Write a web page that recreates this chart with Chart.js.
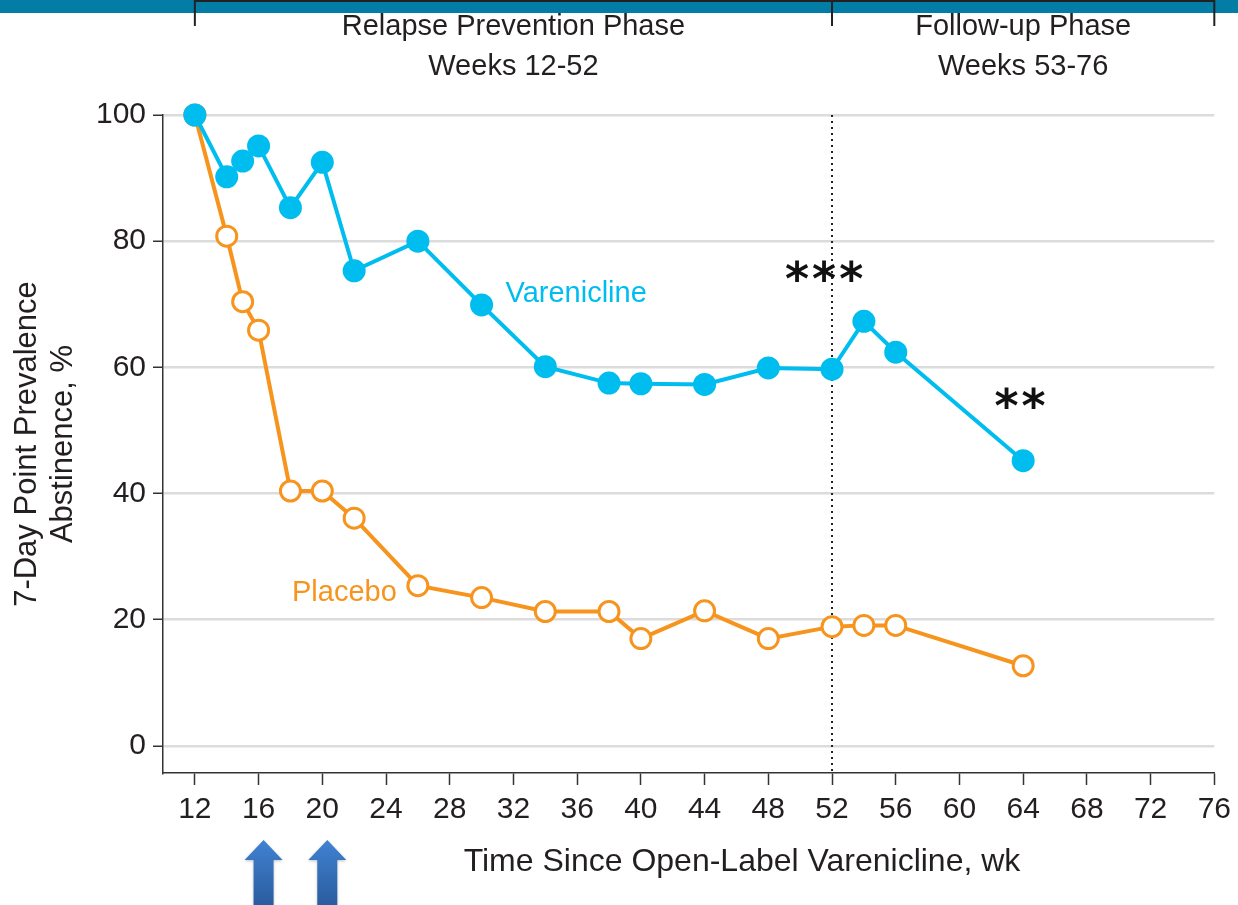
<!DOCTYPE html>
<html>
<head>
<meta charset="utf-8">
<script src="https://cdn.jsdelivr.net/npm/chart.js@4.4.1/dist/chart.umd.min.js"></script>
<style>
  html, body { margin: 0; padding: 0; background: #fff; }
  #wrap { width: 1238px; height: 905px; position: relative; }
</style>
</head>
<body>
<div id="wrap"><canvas id="chart"></canvas></div>
<script>
const weeks = [12, 14, 15, 16, 18, 20, 22, 26, 30, 34, 38, 40, 44, 48, 52, 54, 56, 64];
const varenicline = [100, 90.2, 92.7, 95.1, 85.3, 92.5, 75.3, 80.0, 69.9, 60.1, 57.5, 57.4, 57.3, 59.9, 59.7, 67.3, 62.4, 45.2];
const placebo = [100, 80.8, 70.4, 65.9, 40.4, 40.4, 36.1, 25.4, 23.5, 21.3, 21.3, 17.0, 21.4, 17.0, 18.9, 19.1, 19.1, 12.7];
const xTicks = [12, 16, 20, 24, 28, 32, 36, 40, 44, 48, 52, 56, 60, 64, 68, 72, 76];
const yTicks = [0, 20, 40, 60, 80, 100];
const arrowWeeks = [16, 20];

const BLUE = "#00bdf0";
const ORANGE = "#f7941d";
const TEXT = "#231f20";
const NARROW = "'Liberation Sans Narrow', 'Liberation Sans', sans-serif";

const toPoints = (vals) => weeks.map((w, i) => ({ x: w, y: vals[i] }));

// extra drawing: phase header, dotted divider, series labels, stars, arrows
const annotations = {
  id: "annotations",
  beforeDatasetsDraw(chart) {
    const { ctx, chartArea, scales } = chart;
    const x52 = scales.x.getPixelForValue(52);
    ctx.save();
    ctx.strokeStyle = "#222";
    ctx.lineWidth = 2;
    ctx.setLineDash([2, 4]);
    ctx.beginPath();
    ctx.moveTo(x52, chartArea.top);
    ctx.lineTo(x52, chartArea.bottom);
    ctx.stroke();
    ctx.restore();
  },
  afterDraw(chart) {
    const { ctx, scales } = chart;
    const x = scales.x, y = scales.y;
    const x12 = x.getPixelForValue(12);
    const x52 = x.getPixelForValue(52);
    const x76 = x.getPixelForValue(76);
    ctx.save();

    // header band
    ctx.fillStyle = "#037ca6";
    ctx.fillRect(0, 0, chart.width, 13);
    ctx.strokeStyle = "#222";
    ctx.lineWidth = 2;
    ctx.beginPath();
    ctx.moveTo(x12, 1);
    ctx.lineTo(x76, 1);
    [x12, x52, x76].forEach((px) => {
      ctx.moveTo(px, 0);
      ctx.lineTo(px, 26);
    });
    ctx.stroke();

    ctx.fillStyle = TEXT;
    ctx.font = "29px " + NARROW;
    ctx.textAlign = "center";
    ctx.textBaseline = "middle";
    ctx.fillText("Relapse Prevention Phase", (x12 + x52) / 2, 27);
    ctx.fillText("Weeks 12-52", (x12 + x52) / 2, 67);
    ctx.fillText("Follow-up Phase", (x52 + x76) / 2, 27);
    ctx.fillText("Weeks 53-76", (x52 + x76) / 2, 67);

    // series labels
    ctx.textAlign = "left";
    ctx.fillStyle = BLUE;
    ctx.fillText("Varenicline", x.getPixelForValue(31.5), y.getPixelForValue(71.7));
    ctx.fillStyle = ORANGE;
    ctx.fillText("Placebo", x.getPixelForValue(18.1), y.getPixelForValue(24.3));

    // x axis title
    ctx.fillStyle = TEXT;
    ctx.textAlign = "center";
    ctx.font = "32px " + NARROW;
    ctx.fillText("Time Since Open-Label Varenicline, wk", 742, 862);

    // significance stars
    ctx.fillStyle = "#111";
    ctx.font = "bold 46px 'DejaVu Sans', sans-serif";
    ctx.textBaseline = "alphabetic";
    ctx.letterSpacing = "3px";
    ctx.fillText("***", x.getPixelForValue(51.6), y.getPixelForValue(73.5) + 13);
    ctx.fillText("**", x.getPixelForValue(63.9), y.getPixelForValue(53.4) + 13);
    ctx.letterSpacing = "0px";

    // arrows at dose weeks
    arrowWeeks.forEach((w) => {
      const cx = x.getPixelForValue(w) + 5;
      const top = 840;
      const grad = ctx.createLinearGradient(0, top, 0, 905);
      grad.addColorStop(0, "#4182d2");
      grad.addColorStop(1, "#2a5c9e");
      ctx.fillStyle = grad;
      ctx.shadowColor = "rgba(0,0,0,0.25)";
      ctx.shadowBlur = 3;
      ctx.shadowOffsetY = 1;
      ctx.beginPath();
      ctx.moveTo(cx, top);
      ctx.lineTo(cx + 19, top + 20);
      ctx.lineTo(cx + 10, top + 20);
      ctx.lineTo(cx + 10, 905);
      ctx.lineTo(cx - 10, 905);
      ctx.lineTo(cx - 10, top + 20);
      ctx.lineTo(cx - 19, top + 20);
      ctx.closePath();
      ctx.fill();
    });
    ctx.restore();
  },
};

new Chart(document.getElementById("chart"), {
  type: "line",
  data: {
    datasets: [
      {
        label: "Varenicline",
        data: toPoints(varenicline),
        borderColor: BLUE,
        borderWidth: 4,
        pointRadius: 11.5,
        pointBorderWidth: 0,
        pointBackgroundColor: BLUE,
        clip: false,
      },
      {
        label: "Placebo",
        data: toPoints(placebo),
        borderColor: ORANGE,
        borderWidth: 4,
        pointRadius: 10,
        pointBorderWidth: 3,
        pointBackgroundColor: "#ffffff",
        pointBorderColor: ORANGE,
        clip: false,
      },
    ],
  },
  options: {
    responsive: true,
    maintainAspectRatio: false,
    animation: false,
    layout: { padding: { top: 115, right: 21, left: 0, bottom: 0 } },
    plugins: { legend: { display: false }, tooltip: { enabled: false } },
    scales: {
      x: {
        type: "linear",
        min: 10,
        max: 76,
        afterBuildTicks: (scale) => {
          scale.ticks = xTicks.map((v) => ({ value: v }));
        },
        afterFit: (scale) => {
          scale.height = 132;
        },
        border: { color: "#333", width: 1.5 },
        grid: { drawOnChartArea: false, tickColor: "#333", tickLength: 12, tickWidth: 1.5 },
        ticks: { color: TEXT, font: { family: "'Liberation Sans', sans-serif", size: 30 }, padding: 7, maxRotation: 0, autoSkip: false },
      },
      y: {
        type: "linear",
        min: -4.3,
        max: 100,
        afterBuildTicks: (scale) => {
          scale.ticks = yTicks.map((v) => ({ value: v }));
        },
        afterFit: (scale) => {
          scale.width = 163;
        },
        border: { color: "#333", width: 1.5 },
        grid: { color: "#dcdcdc", lineWidth: 2.5, tickColor: "#333", tickLength: 10, tickWidth: 1.5 },
        ticks: { color: TEXT, font: { family: "'Liberation Sans', sans-serif", size: 30 }, padding: 7 },
        title: {
          display: true,
          text: ["7-Day Point Prevalence", "Abstinence, %"],
          color: TEXT,
          font: { family: NARROW, size: 31, lineHeight: 1.15 },
          padding: { top: 10, bottom: 0 },
        },
      },
    },
  },
  plugins: [annotations],
});
</script>
</body>
</html>
